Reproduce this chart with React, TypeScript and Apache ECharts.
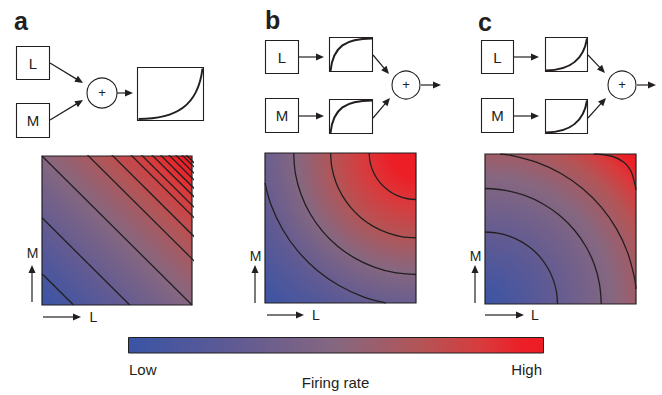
import React, { useEffect, useRef } from "react";
import * as echarts from "echarts";

const INK = "#231f20";
const FONT = "Liberation Sans, Arial, Helvetica, sans-serif";

// Colour ramp (Low -> High firing rate)
const rampColors = ["#3a54a5", "#5f5a94", "#866780", "#b25557", "#d83b3d", "#ec1f27", "#ed1c24"];
const rampPos = [0, 0.25, 0.5, 0.7, 0.85, 0.95, 1];
// Where each ramp colour sits along the radial gradients of panels b and c
const bRadialPos = [1, 0.76, 0.56, 0.4, 0.25, 0.12, 0];
const cRadialPos = [0, 0.3, 0.6, 0.78, 0.88, 0.96, 1];

// Panel a: contour levels of L + M (straight iso-lines)
const aLevels = [0.21, 0.585, 1.0, 1.31, 1.473, 1.6, 1.67, 1.74, 1.797, 1.853, 1.898, 1.94, 1.968];

// Panel b: contour points [L, M]
const bContour1 = [[0.69, 1], [0.695, 0.946], [0.709, 0.894], [0.732, 0.845], [0.763, 0.801], [0.801, 0.763], [0.845, 0.732], [0.894, 0.709], [0.946, 0.695], [1, 0.69]];
const bContour2 = [[0.435, 1], [0.443, 0.902], [0.469, 0.807], [0.511, 0.717], [0.567, 0.637], [0.637, 0.567], [0.717, 0.511], [0.807, 0.469], [0.902, 0.443], [1, 0.435]];
const bContour3 = [[0.19, 1], [0.202, 0.859], [0.239, 0.723], [0.299, 0.595], [0.38, 0.479], [0.479, 0.38], [0.595, 0.299], [0.723, 0.239], [0.859, 0.202], [1, 0.19]];
const bContour4 = [[0, 0.8], [0.041, 0.651], [0.117, 0.49], [0.219, 0.344], [0.344, 0.219], [0.49, 0.117], [0.651, 0.041], [0.8, 0]];

// Panel c: contour points [L, M]
const cContour1 = [[0, 0.48], [0.083, 0.473], [0.164, 0.451], [0.24, 0.416], [0.309, 0.368], [0.368, 0.309], [0.416, 0.24], [0.451, 0.164], [0.473, 0.083], [0.48, 0]];
const cContour2 = [[0, 0.77], [0.134, 0.758], [0.263, 0.724], [0.385, 0.667], [0.495, 0.59], [0.59, 0.495], [0.667, 0.385], [0.724, 0.263], [0.758, 0.134], [0.77, 0]];
const cContour3 = [[0.1, 1], [0.175, 0.99], [0.344, 0.944], [0.503, 0.87], [0.646, 0.77], [0.77, 0.646], [0.87, 0.503], [0.944, 0.344], [0.99, 0.175], [1, 0.1]];
const cContour4 = [[0.72, 1], [0.84, 0.985], [0.92, 0.945], [0.965, 0.89], [0.99, 0.81], [1, 0.76]];

const panelLetters = ["a", "b", "c"];
const colorbarLabels = ["Low", "High"];
const colorbarTitle = "Firing rate";

function stops(pos: number[] = rampPos) {
  return pos
    .map((p, i) => ({ offset: p, color: rampColors[i] }))
    .sort((a, b) => a.offset - b.offset);
}

function arrow(x1: number, y1: number, x2: number, y2: number, len = 8, half = 3.5) {
  const dx = x2 - x1, dy = y2 - y1, d = Math.hypot(dx, dy);
  const ux = dx / d, uy = dy / d;
  const bx = x2 - ux * len, by = y2 - uy * len;
  return [
    { type: "line", shape: { x1, y1, x2: bx + ux, y2: by + uy }, style: { stroke: INK, lineWidth: 1.2 } },
    {
      type: "polygon",
      shape: { points: [[x2, y2], [bx - uy * half, by + ux * half], [bx + uy * half, by - ux * half]] },
      style: { fill: INK },
    },
  ];
}

function txt(text: string, x: number, y: number, size: number, align = "center", weight = "normal") {
  return {
    type: "text",
    x,
    y,
    style: {
      text,
      fontSize: size,
      fontFamily: FONT,
      fontWeight: weight,
      fill: INK,
      align,
      textAlign: align,
      verticalAlign: "middle",
      textVerticalAlign: "middle",
    },
  };
}

function box(x: number, y: number, w: number, h: number) {
  return { type: "rect", shape: { x, y, width: w, height: h }, style: { fill: "#fff", stroke: INK, lineWidth: 1.1 } };
}

function curve(x1: number, y1: number, c1x: number, c1y: number, c2x: number, c2y: number, x2: number, y2: number) {
  return {
    type: "bezierCurve",
    shape: { x1, y1, cpx1: c1x, cpy1: c1y, cpx2: c2x, cpy2: c2y, x2, y2 },
    style: { stroke: INK, lineWidth: 2, fill: null },
  };
}

function plus(cx: number, cy: number, r: number) {
  return [
    { type: "circle", shape: { cx, cy, r }, style: { fill: "#fff", stroke: INK, lineWidth: 1.1 } },
    txt("+", cx, cy - 0.5, 13),
  ];
}

export default function App() {
  const ref = useRef<HTMLDivElement>(null);
  useEffect(() => {
    document.body.style.margin = "0";
    if (!ref.current) return;
    const chart = echarts.init(ref.current, undefined, { renderer: "svg" });

    const grids = [
      { left: 42, top: 156, width: 150, height: 149 },
      { left: 265, top: 153, width: 151, height: 150 },
      { left: 485, top: 154, width: 151, height: 150 },
    ];
    const bgs = [
      { type: "linear", x: 0, y: 1, x2: 1, y2: 0, colorStops: stops() },
      { type: "radial", x: 1, y: 0, r: 1.414, colorStops: stops(bRadialPos) },
      { type: "radial", x: 0, y: 1, r: 1.414, colorStops: stops(cRadialPos) },
    ];

    const lineBase = {
      type: "line",
      showSymbol: false,
      symbol: "none",
      silent: true,
      clip: true,
      lineStyle: { color: INK, width: 1.3 },
    };

    const series: any[] = [
      ...aLevels.map((s) => ({ ...lineBase, xAxisIndex: 0, yAxisIndex: 0, data: [[0, s], [s, 0]] })),
      ...[bContour1, bContour2, bContour3, bContour4].map((pts) => ({
        ...lineBase, xAxisIndex: 1, yAxisIndex: 1, smooth: 0.35, data: pts,
      })),
      ...[cContour1, cContour2, cContour3, cContour4].map((pts) => ({
        ...lineBase, xAxisIndex: 2, yAxisIndex: 2, smooth: 0.35, data: pts,
      })),
    ];

    const elements: any[] = [
      // panel letters
      txt(panelLetters[0], 14, 21, 25, "left", "bold"),
      txt(panelLetters[1], 265, 19.5, 25, "left", "bold"),
      txt(panelLetters[2], 478, 22, 25, "left", "bold"),

      // panel a diagram
      ...arrow(50, 63, 83, 83),
      ...arrow(50, 120, 83, 100),
      box(16.5, 46.5, 33, 33),
      box(16.5, 103.5, 33, 34),
      txt("L", 33, 63, 15),
      txt("M", 33, 120.5, 15),
      ...plus(102, 93, 15),
      ...arrow(117, 93, 133, 93),
      box(137.5, 67.5, 66, 53),
      curve(138.5, 119, 176, 119, 198, 106, 202.5, 68.5),

      // panel b diagram
      box(265.5, 40.5, 33, 33),
      box(265.5, 98.5, 33, 34),
      txt("L", 282, 57, 15),
      txt("M", 282, 115.5, 15),
      ...arrow(299, 57, 324, 57),
      ...arrow(299, 116, 324, 116),
      box(329.5, 37.5, 43, 34),
      box(329.5, 99.5, 43, 34),
      curve(330.5, 71, 333, 46, 346, 38.5, 372, 38.5),
      curve(330.5, 133, 333, 108, 346, 100.5, 372, 100.5),
      ...arrow(373, 55, 389, 74),
      ...arrow(373, 118, 390, 98),
      ...plus(406, 85, 14),
      ...arrow(421, 85, 441, 85),

      // panel c diagram
      box(481.5, 40.5, 32, 33),
      box(481.5, 98.5, 32, 34),
      txt("L", 497.5, 57, 15),
      txt("M", 497.5, 115.5, 15),
      ...arrow(514, 57, 539, 57),
      ...arrow(514, 116, 539, 116),
      box(545.5, 37.5, 42, 34),
      box(545.5, 99.5, 42, 34),
      curve(546, 70.5, 571, 70.5, 584, 58, 587, 38.5),
      curve(546, 132.5, 571, 132.5, 584, 120, 587, 100.5),
      ...arrow(588, 55, 605, 73),
      ...arrow(588, 118, 606, 98),
      ...plus(622, 85, 14),
      ...arrow(637, 85, 656, 85),

      // axis hints
      ...arrow(32, 302, 32, 265),
      txt("M", 32.5, 253, 14),
      ...arrow(43, 317, 81, 317),
      txt("L", 93.5, 317, 14),

      ...arrow(255, 303, 255, 265),
      txt("M", 255.5, 255.5, 14),
      ...arrow(267, 315, 304, 315),
      txt("L", 316, 315, 14),

      ...arrow(475, 303, 475, 265),
      txt("M", 475.5, 255.5, 14),
      ...arrow(485, 315, 524, 315),
      txt("L", 535, 315, 14),

      // colour bar
      {
        type: "rect",
        shape: { x: 128.5, y: 337.5, width: 415, height: 15.5 },
        style: {
          fill: { type: "linear", x: 0, y: 0, x2: 1, y2: 0, colorStops: stops() },
          stroke: INK,
          lineWidth: 1,
        },
      },
      txt(colorbarLabels[0], 129, 369, 15, "left"),
      txt(colorbarLabels[1], 542, 369, 15, "right"),
      txt(colorbarTitle, 335.5, 382.5, 15),
    ];

    chart.setOption({
      animation: false,
      backgroundColor: "#fff",
      grid: grids.map((g, i) => ({
        ...g,
        show: true,
        backgroundColor: bgs[i],
        borderColor: INK,
        borderWidth: 1.2,
      })),
      xAxis: grids.map((_, i) => ({ type: "value", gridIndex: i, min: 0, max: 1, show: false })),
      yAxis: grids.map((_, i) => ({ type: "value", gridIndex: i, min: 0, max: 1, show: false })),
      series,
      graphic: { elements },
    });
    return () => chart.dispose();
  }, []);
  return <div ref={ref} style={{ width: 662, height: 395 }} />;
}
